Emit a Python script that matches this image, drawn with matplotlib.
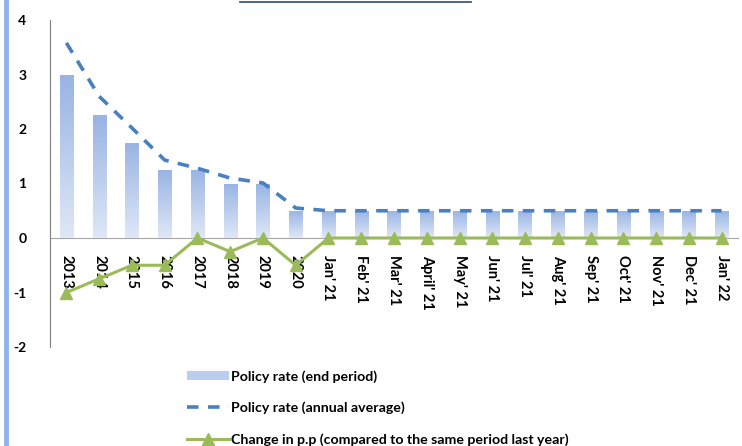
import numpy as np
import matplotlib.pyplot as plt
from matplotlib.lines import Line2D
from matplotlib.colors import LinearSegmentedColormap

plt.rcParams['font.family'] = ['Lato', 'DejaVu Sans']
plt.rcParams['font.weight'] = 'bold'
plt.rcParams['axes.unicode_minus'] = False

labels = ['2013', '2014', '2015', '2016', '2017', '2018', '2019', '2020',
          "Jan' 21", "Feb' 21", "Mar' 21", "April' 21", "May' 21", "Jun' 21",
          "Jul' 21", "Aug' 21", "Sep' 21", "Oct' 21", "Nov' 21", "Dec' 21", "Jan' 22"]
rate_end = [3.0, 2.25, 1.75, 1.25, 1.25, 1.0, 1.0, 0.5] + [0.5] * 13
rate_avg = [3.58, 2.6, 2.02, 1.43, 1.28, 1.1, 1.01, 0.55] + [0.5] * 13
change_pp = [-1.0, -0.75, -0.5, -0.5, 0.0, -0.25, 0.0, -0.5] + [0.0] * 13

fig = plt.figure(figsize=(7.42, 4.46), dpi=100)
ax = fig.add_axes([50 / 742, 1 - 347 / 446, 688 / 742, 327 / 446])

# axis at zero first (this resets ticks)
ax.spines['bottom'].set_position(('data', 0))
ax.spines['bottom'].set_color('#a6a6a6')
ax.spines['bottom'].set_zorder(1)
ax.spines['left'].set_color('#7f7f7f')
ax.spines['top'].set_visible(False)
ax.spines['right'].set_visible(False)

x = np.arange(len(labels))

# bars with vertical gradient
bars = ax.bar(x, rate_end, width=0.4, color='none', edgecolor='none', zorder=2)
cmap = LinearSegmentedColormap.from_list('bl', ['#dfe7f6', '#98b4e4'])
grad = np.linspace(0, 1, 100).reshape(-1, 1)
for b in bars:
    x0, y0 = b.get_x(), b.get_y()
    im = ax.imshow(grad, cmap=cmap, origin='lower', aspect='auto',
                   extent=[x0, x0 + b.get_width(), y0, y0 + b.get_height()], zorder=2)
    im.set_clip_path(b)

ax.plot(x, rate_avg, color='#4a7fc0', lw=2.6, dashes=(3.2, 2.6), zorder=3)
ax.plot(x, change_pp, color='#9bbb59', lw=2.2, marker='^', ms=8, zorder=4)

ax.set_xlim(-0.5, len(labels) - 0.5)
ax.set_ylim(-2, 4)
ax.set_yticks(range(-2, 5))
ax.set_xticks(x)
ax.set_xticklabels(labels, rotation=270, fontsize=10.5, fontweight='bold', va='top', ha='center')
ax.tick_params(axis='y', length=0, pad=17, labelsize=10)
ax.tick_params(axis='x', length=0, pad=12)
for t in ax.get_yticklabels():
    t.set_fontweight('bold')

# legend
handles = [
    plt.Rectangle((0, 0), 1, 1, facecolor='#b9cdef', edgecolor='none'),
    Line2D([], [], color='#4a7fc0', lw=2.6, dashes=(3.2, 2.6)),
    Line2D([], [], color='#9bbb59', lw=2.2, marker='^', ms=8),
]
names = ['Policy rate (end period)', 'Policy rate (annual average)',
         'Change in p.p (compared to the same period last year)']
fig.legend(handles, names, loc='upper left', bbox_to_anchor=(177 / 742, 1 - 360 / 446),
           frameon=False, prop={'weight': 'bold', 'size': 10.2}, handlelength=3.0,
           labelspacing=1.35, handletextpad=0.1, borderaxespad=0.3)

# left border and cut-off title underline
fig.add_artist(Line2D([6 / 742, 6 / 742], [0, 1], color='#8cb3ee', lw=3.5))
fig.add_artist(Line2D([240 / 742, 471 / 742], [1 - 2 / 446, 1 - 2 / 446], color='#2f4a6e', lw=1.2))

fig.savefig('out.png', dpi=100)
